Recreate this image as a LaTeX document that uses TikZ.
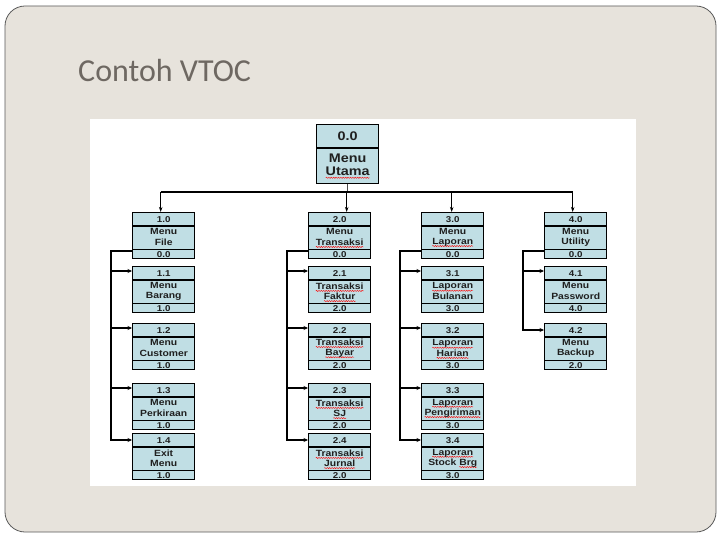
\documentclass[tikz,border=0pt]{standalone}
\usepackage{fontspec}
\setmainfont{Liberation Sans}
\newfontfamily\titlefont{Carlito}
\newfontfamily\boxfont[FakeStretch=1.15]{Liberation Sans Bold}
\usetikzlibrary{arrows.meta,calc,decorations.pathmorphing}
\definecolor{slidebg}{RGB}{231,227,220}
\definecolor{slideedge}{RGB}{90,90,90}
\definecolor{boxfill}{RGB}{192,222,228}
\definecolor{titlegray}{RGB}{110,104,98}
\newcommand\sqw[1]{\setbox0=\hbox{#1}\leavevmode\rlap{\tikz[overlay,baseline=0pt]\draw[red, line width=0.4pt, decorate, decoration={snake, amplitude=0.6pt, segment length=2.4pt}] (0pt,-1.8pt) -- (\the\wd0,-1.8pt);}\box0}
\tikzset{
  vbox/.style={draw=black, line width=1.4pt, fill=boxfill, minimum width=62pt,
    minimum height=46pt, inner sep=0pt, anchor=north west},
  divl/.style={line width=1.2pt},
  lbl/.style={font=\boxfont\fontsize{9}{10.2}\selectfont, text=black!88,
    inner sep=0pt, align=center},
  numl/.style={font=\boxfont\fontsize{8.5}{9}\selectfont, text=black!88, inner sep=0pt},
  sidearr/.style={line width=1.6pt, -{Stealth[length=4.5pt,width=4pt]}},
  drop/.style={line width=0.9pt, -{Stealth[length=5pt,width=3.5pt]}},
  busline/.style={line width=1.8pt},
}
\newcommand{\vt}[7]{%
  \node[vbox] (#1) at (#2,#3) {};
  \draw[divl] ([yshift=-14pt]#1.north west) -- ([yshift=-14pt]#1.north east);
  \draw[divl] ([yshift=10pt]#1.south west) -- ([yshift=10pt]#1.south east);
  \node[numl] (#1n) at ([yshift=-7.5pt]#1.north) {#4};
  \node[lbl] (#1t) at ([yshift=-25pt]#1.north) {#5\\#6};
  \node[numl] (#1f) at ([yshift=4.9pt]#1.south) {#7};
}
\begin{document}
\begin{tikzpicture}[x=1pt,y=-1pt]
\useasboundingbox (0,0) rectangle (720,540);
\fill[white] (0,0) rectangle (720,540);
\draw[fill=slidebg, draw=slideedge, line width=0.8pt, rounded corners=20pt] (5,6) rectangle (716,532);
\node[anchor=base west, inner sep=0pt, text=titlegray, font=\titlefont\fontsize{32}{36}\selectfont] (title) at (78,82) {Contoh VTOC};
\fill[white] (90,119) rectangle (636,486);

% top node
\node[draw=black, line width=1.4pt, fill=boxfill, minimum width=62pt, minimum height=59pt,
  anchor=north west, inner sep=0pt] (top) at (316,124) {};
\draw[divl] ([yshift=-24pt]top.north west) -- ([yshift=-24pt]top.north east);
\node[font=\boxfont\fontsize{12.5}{13.5}\selectfont, text=black!88, inner sep=0pt] (topn) at ([yshift=-12.5pt]top.north) {0.0};
\node[font=\boxfont\fontsize{12.5}{13.5}\selectfont, text=black!88, inner sep=0pt, align=center] (topt) at ([yshift=-41pt]top.north) {Menu\\\sqw{Utama}};

% column 1
\vt{n10}{132}{212}{1.0}{Menu}{File}{0.0}
\vt{n11}{132}{266}{1.1}{Menu}{Barang}{1.0}
\vt{n12}{132}{323}{1.2}{Menu}{Customer}{1.0}
\vt{n13}{132}{383}{1.3}{Menu}{Perkiraan}{1.0}
\vt{n14}{132}{433}{1.4}{Exit}{Menu}{1.0}
% column 2
\vt{n20}{308}{212}{2.0}{Menu}{\sqw{Transaksi}}{0.0}
\vt{n21}{308}{266}{2.1}{\sqw{Transaksi}}{\sqw{Faktur}}{2.0}
\vt{n22}{308}{323}{2.2}{\sqw{Transaksi}}{\sqw{Bayar}}{2.0}
\vt{n23}{308}{383}{2.3}{\sqw{Transaksi}}{\sqw{SJ}}{2.0}
\vt{n24}{308}{433}{2.4}{\sqw{Transaksi}}{\sqw{Jurnal}}{2.0}
% column 3
\vt{n30}{421}{212}{3.0}{Menu}{\sqw{Laporan}}{0.0}
\vt{n31}{421}{266}{3.1}{\sqw{Laporan}}{Bulanan}{3.0}
\vt{n32}{421}{323}{3.2}{\sqw{Laporan}}{\sqw{Harian}}{3.0}
\vt{n33}{421}{383}{3.3}{\sqw{Laporan}}{\sqw{Pengiriman}}{3.0}
\vt{n34}{421}{433}{3.4}{\sqw{Laporan}}{Stock \sqw{Brg}}{3.0}
% column 4
\vt{n40}{544}{212}{4.0}{Menu}{Utility}{0.0}
\vt{n41}{544}{266}{4.1}{Menu}{Password}{4.0}
\vt{n42}{544}{323}{4.2}{Menu}{Backup}{2.0}

% bus
\coordinate (bus) at (346,192);
\draw[line width=0.8pt, black!70] (top.south) -- (top.south |- bus);
\draw[busline] ([xshift=-3pt]n10.north |- bus) -- ([xshift=-3pt]n40.north |- bus);
\draw[drop] ([xshift=-3pt]n10.north |- bus) -- ([xshift=-3pt]n10.north);
\draw[drop] ([xshift=7pt]n20.north |- bus) -- ([xshift=7pt]n20.north);
\draw[drop] ([xshift=-1pt]n30.north |- bus) -- ([xshift=-1pt]n30.north);
\draw[drop] ([xshift=-3pt]n40.north |- bus) -- ([xshift=-3pt]n40.north);

% side connectors
\foreach \p/\last/\kids in {n1/n14/{n11,n12,n13}, n2/n24/{n21,n22,n23}, n3/n34/{n31,n32,n33}, n4/n42/{n41}}{
  \draw[sidearr] ([yshift=8.5pt]\p0.south west) -| ([xshift=-21pt,yshift=-7pt]\last.north west) -- ([yshift=-7pt]\last.north west);
  \foreach \k in \kids {
    \draw[sidearr] ([xshift=-21pt,yshift=-5pt]\k.north west) -- ([yshift=-5pt]\k.north west);
  }
}
\end{tikzpicture}
\end{document}
